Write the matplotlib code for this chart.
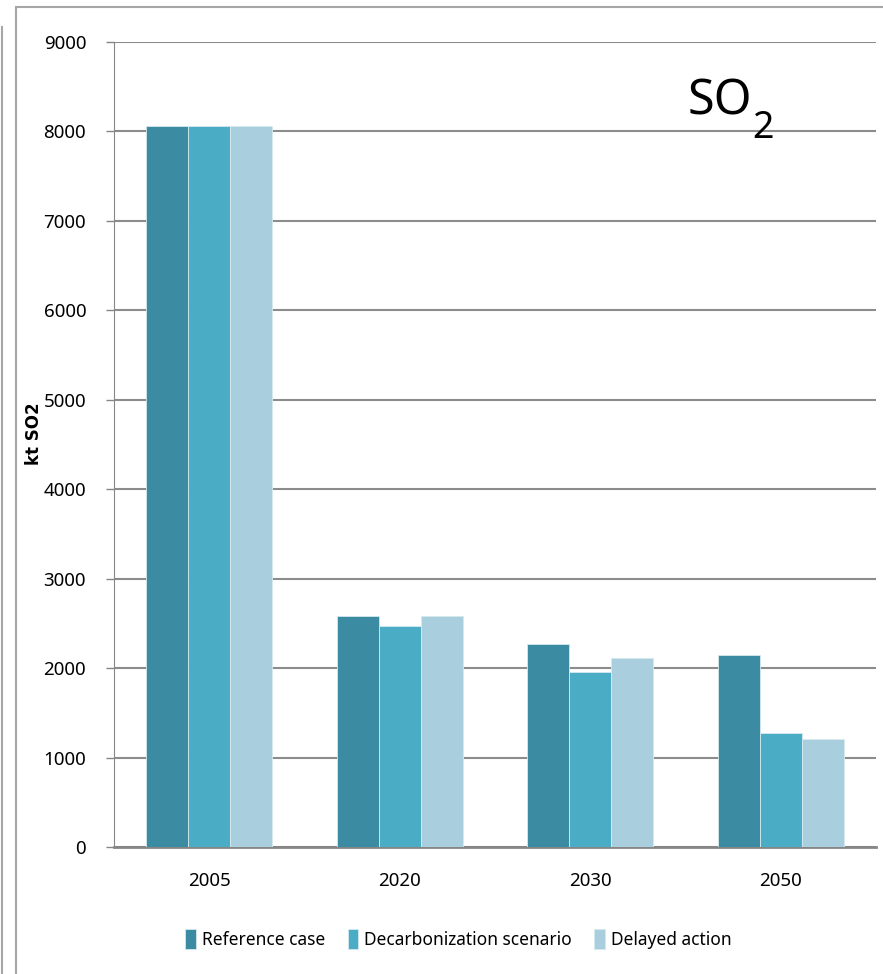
import matplotlib
matplotlib.use("Agg")
import matplotlib.pyplot as plt
import numpy as np
from matplotlib.lines import Line2D
from matplotlib.patches import Rectangle

years = ["2005", "2020", "2030", "2050"]
reference_case = [8060, 2580, 2270, 2145]
decarbonization = [8060, 2470, 1955, 1275]
delayed_action = [8060, 2580, 2110, 1205]
series_names = ["Reference case", "Decarbonization scenario", "Delayed action"]
colors = ["#3B8BA2", "#4BACC6", "#A9CEDD"]

plt.rcParams["font.family"] = ["Noto Sans", "DejaVu Sans"]

fig = plt.figure(figsize=(8.83, 9.74), dpi=100)
ax = fig.add_axes([0.129, 0.1304, 0.863, 0.8265])

x = np.arange(len(years))
w = 0.22
for i, (vals, name, c) in enumerate(zip([reference_case, decarbonization, delayed_action],
                                        series_names, colors)):
    ax.bar(x + (i - 1) * w, vals, w, color=c, label=name,
           edgecolor="#D6E9EF", linewidth=0.6, zorder=3)

ax.set_xlim(-0.5, len(years) - 0.5)
ax.set_ylim(0, 9000)
ax.set_yticks(range(0, 9001, 1000))
ax.set_xticks(x)
ax.set_xticklabels(years)
ax.tick_params(axis="y", length=6, width=1, color="#868686", labelsize=13.5, pad=14)
ax.tick_params(axis="x", length=0, labelsize=13.5, pad=18)
ax.grid(axis="y", color="#8C8C8C", linewidth=1.5, zorder=0)

for s in ["top", "right"]:
    ax.spines[s].set_visible(False)
ax.spines["left"].set_color("#868686")
ax.spines["bottom"].set_color("#868686")
ax.spines["bottom"].set_linewidth(2)

ax.set_ylabel("kt SO2", family="DejaVu Sans", fontweight="bold", fontsize=12)
ax.yaxis.set_label_coords(-0.093, 0.513)

# title-like label in the upper right, with a lowered 2
ax.text(0.837, 0.926, "SO", transform=ax.transAxes,
        ha="right", va="center", fontsize=35)
ax.text(0.838, 0.893, "2", transform=ax.transAxes,
        ha="left", va="center", fontsize=27)

ax.legend(loc="upper center", bbox_to_anchor=(0.452, -0.083), ncol=3, frameon=False,
          fontsize=12.5, handlelength=0.6, handleheight=1.4, handletextpad=0.35,
          columnspacing=1.3)

# outer frame lines
fig.add_artist(Rectangle((16 / 883, -0.1), 2, 1.1 - 7 / 974, transform=fig.transFigure,
                         fill=False, edgecolor="#A6A6A6", linewidth=1.5))
fig.add_artist(Line2D([1.5 / 883, 1.5 / 883], [0, 1 - 27 / 974], transform=fig.transFigure,
                      color="#A6A6A6", linewidth=1.5))

fig.savefig("out.png", dpi=100)
